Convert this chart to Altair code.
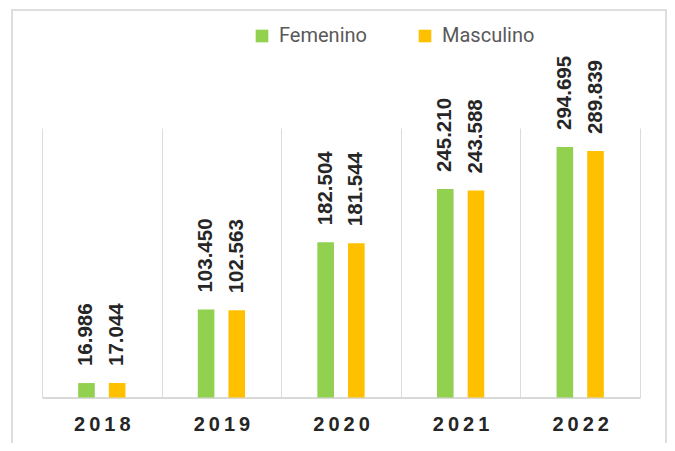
import altair as alt
import pandas as pd

years = ["2018", "2019", "2020", "2021", "2022"]
femenino = [16986, 103450, 182504, 245210, 294695]
masculino = [17044, 102563, 181544, 243588, 289839]
series = ["Femenino", "Masculino"]
colors = ["#92D050", "#FFC000"]

rows = []
for i, y in enumerate(years):
    for s, vals in zip(series, [femenino, masculino]):
        v = vals[i]
        rows.append({"Año": y, "Sexo": s, "Valor": v,
                     "Etiqueta": f"{v:,}".replace(",", ".")})
df = pd.DataFrame(rows)

frame_df = pd.DataFrame({"k": [0]})

x_enc = alt.X("Año:N", sort=years,
              scale=alt.Scale(paddingInner=0, paddingOuter=0),
              axis=alt.Axis(title=None, labelAngle=0, ticks=False, grid=True,
                            tickBand="extent", gridColor="#dcdcdc", gridWidth=1,
                            domainColor="#d9d9d9", domainWidth=2,
                            labelFont="Liberation Sans", labelFontSize=20,
                            labelFontWeight="bold", labelColor="#262626",
                            labelPadding=17,
                            labelExpr="join(split(datum.label, ''), '\u2009')"))
xo_enc = alt.XOffset("Sexo:N", sort=series,
                     scale=alt.Scale(paddingInner=0, paddingOuter=0.95))
y_enc = alt.Y("Valor:Q", scale=alt.Scale(domain=[0, 317000], nice=False),
              axis=None)

bars = alt.Chart(df).mark_bar(width=16.6).encode(
    x=x_enc, xOffset=xo_enc, y=y_enc,
    color=alt.Color("Sexo:N", sort=series,
                    scale=alt.Scale(domain=series, range=colors),
                    legend=alt.Legend(title=None, orient="none", direction="horizontal",
                                      legendX=210, legendY=-102,
                                      symbolType="square", symbolSize=160,
                                      symbolStrokeWidth=0,
                                      labelFont="Roboto", labelFontSize=20,
                                      labelColor="#595959", labelOffset=7,
                                      columnPadding=48, labelLimit=200)),
)

labels = alt.Chart(df).mark_text(
    angle=270, align="left", baseline="middle", dx=17,
    font="Liberation Sans", fontSize=20.5, fontWeight="bold", color="#262626",
).encode(x=x_enc, xOffset=xo_enc, y=y_enc, text="Etiqueta:N")

frame = alt.Chart(frame_df).mark_rect(
    fill=None, stroke="#dedede", strokeWidth=2
).encode(x=alt.value(-30), x2=alt.value(624), y=alt.value(-118), y2=alt.value(340))

chart = alt.layer(frame, bars, labels).properties(
    width=598, height=269.5,
    autosize=alt.AutoSizeParams(type="none"),
    padding={"left": 34, "top": 120, "right": 27, "bottom": 45},
).configure_view(strokeWidth=0)

chart.save("out.html", embed_options={"renderer": "svg", "actions": False})
